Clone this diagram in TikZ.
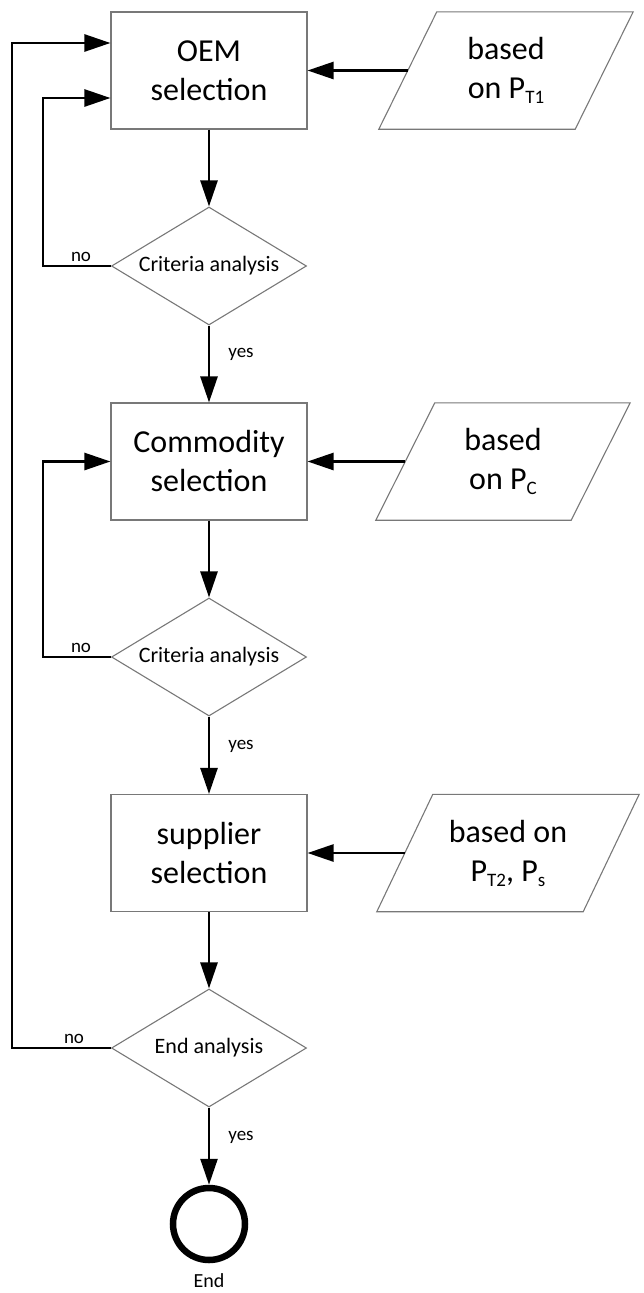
\documentclass[tikz,border=0pt]{standalone}
\usepackage{fontspec}
\setmainfont{Carlito}
\usetikzlibrary{shapes.geometric,arrows.meta,calc}
\definecolor{bordergray}{RGB}{120,120,120}
\newcommand{\sbs}[1]{\raisebox{-5pt}{\fontsize{19}{19}\selectfont #1}}
\begin{document}
\begin{tikzpicture}[x=1pt,y=-1pt,
  procbox/.style={draw=bordergray, line width=1.1pt, minimum width=196pt, minimum height=117pt,
    inner sep=0pt, align=center, font=\fontsize{32}{39}\selectfont},
  datanode/.style={minimum height=117pt, inner sep=0pt, align=center, font=\fontsize{32}{39}\selectfont},
  slantline/.style={draw=bordergray, line width=1.1pt, line join=miter},
  decision/.style={diamond, draw=bordergray, line width=1.1pt, minimum width=195pt, minimum height=118pt,
    inner sep=0pt, aspect=1.68, font=\fontsize{22}{26}\selectfont},
  endcirc/.style={circle, draw=black, line width=6.5pt, minimum size=72pt, inner sep=0pt},
  flow/.style={line width=2.6pt, line join=miter, -{Triangle[length=26pt,width=17pt]}},
  lbl/.style={inner sep=0pt, font=\fontsize{19}{22}\selectfont},
]
\useasboundingbox (0,0) rectangle (643,1293);

% process boxes
\node[procbox] (b1) at (209,70.5) {OEM\\selection};
\node[procbox] (b2) at (209,461.5) {Commodity\\selection};
\node[procbox] (b3) at (209,853) {supplier\\selection};

% decisions
\node[decision] (d1) at (209,266) {Criteria analysis};
\node[decision] (d2) at (209,657) {Criteria analysis};
\node[decision] (d3) at (209,1048) {End analysis};

% end
\node[endcirc] (e) at (209,1224) {};
\node[lbl, font=\fontsize{20}{24}\selectfont] (elbl) at (209,1281) {End};

% data (parallelograms)
\node[datanode, minimum width=196pt] (p1) at (506,70.5) {based\\on P\sbs{T1}};
\node[datanode, minimum width=195pt] (p2) at (503,461.5) {based\\on P\sbs{C}};
\node[datanode, minimum width=206pt] (p3) at (508,853) {based on\\P\sbs{T2}, P\sbs{s}};
\draw[slantline] ($(p1.north west)+(29,0)$) -- ($(p1.north east)+(29,0)$) -- ($(p1.south east)+(-29,0)$) -- ($(p1.south west)+(-29,0)$) -- cycle;
\draw[slantline] ($(p2.north west)+(29.5,0)$) -- ($(p2.north east)+(29.5,0)$) -- ($(p2.south east)+(-29.5,0)$) -- ($(p2.south west)+(-29.5,0)$) -- cycle;
\draw[slantline] ($(p3.north west)+(28,0)$) -- ($(p3.north east)+(28,0)$) -- ($(p3.south east)+(-28,0)$) -- ($(p3.south west)+(-28,0)$) -- cycle;

% main flow
\draw[flow] (b1.south) -- (d1.north);
\draw[flow] (d1.south) -- (b2.north);
\draw[flow] (b2.south) -- (d2.north);
\draw[flow] (d2.south) -- (b3.north);
\draw[flow] (b3.south) -- (d3.north);
\draw[flow] (d3.south) -- (e.north);

% inputs
\draw[flow] (p1.west) -- (b1.east);
\draw[flow] (p2.west) -- (b2.east);
\draw[flow] (p3.west) -- (b3.east);

% loops
\coordinate (in1) at ($(b1.west)+(0,27.5)$);
\coordinate (out1) at ($(b1.west)+(0,-27.5)$);
\draw[flow] (d1.west) -- (43,266) |- (in1);
\draw[flow] (d2.west) -- (43,657) |- (b2.west);
\draw[flow] (d3.west) -- (12,1048) |- (out1);

% labels
\node[lbl] (no1) at (81,257) {no};
\node[lbl] (no2) at (81,648) {no};
\node[lbl] (no3) at (74,1039) {no};
\node[lbl] (yes1) at (241,354) {yes};
\node[lbl] (yes2) at (241,746) {yes};
\node[lbl] (yes3) at (241,1137) {yes};
\end{tikzpicture}
\end{document}
